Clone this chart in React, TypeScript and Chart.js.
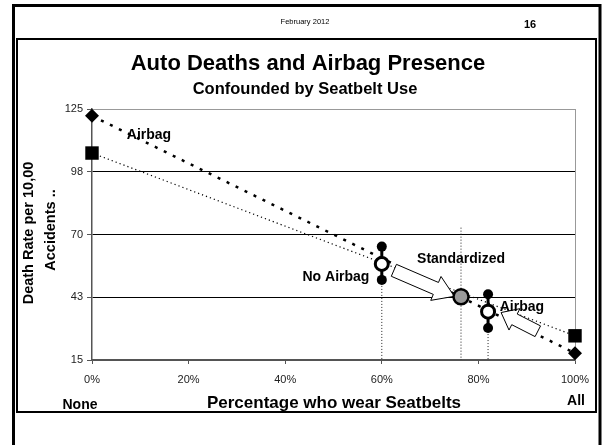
import React, { useEffect, useRef } from 'react';
import { Chart, registerables } from 'chart.js';
Chart.register(...registerables);

// ---- data ----
const xTickValues = [0, 20, 40, 60, 80, 100];
const yTickValues = [15, 42.5, 70, 97.5, 125];

const trendX = [0, 100];
const airbagTrend = [122, 18];
const noAirbagTrend = [105.7, 25.6];

const groupPct = [60, 82];
const groupRate = [57.1, 36.2];
const groupHigh = [64.7, 43.8];
const groupLow = [50.1, 29.0];

const standardizedPct = 76.4;
const standardizedRate = 42.7;
const standardizedLineTop = 73;

const arrowFrom = [[62.5, 54.3], [92.3, 27.6]];
const arrowTo = [[75.0, 42.9], [84.7, 35.8]];

const labelTexts = ['Airbag', 'No Airbag', 'Standardized', 'Airbag'];
const labelAt = [[11.8, 113.6], [50.5, 51.4], [76.4, 59.3], [89.0, 38.3]];

const FONT = "'Liberation Sans', Arial, Helvetica, sans-serif";

function drawArrow(ctx: CanvasRenderingContext2D, x1: number, y1: number, x2: number, y2: number, bodyHalf: number, headHalf: number, headLen: number) {
  const dx = x2 - x1, dy = y2 - y1;
  const len = Math.hypot(dx, dy);
  const ux = dx / len, uy = dy / len;
  const nx = -uy, ny = ux;
  const bx = x2 - ux * headLen, by = y2 - uy * headLen;
  ctx.save();
  ctx.beginPath();
  ctx.moveTo(x1 + nx * bodyHalf, y1 + ny * bodyHalf);
  ctx.lineTo(bx + nx * bodyHalf, by + ny * bodyHalf);
  ctx.lineTo(bx + nx * headHalf, by + ny * headHalf);
  ctx.lineTo(x2, y2);
  ctx.lineTo(bx - nx * headHalf, by - ny * headHalf);
  ctx.lineTo(bx - nx * bodyHalf, by - ny * bodyHalf);
  ctx.lineTo(x1 - nx * bodyHalf, y1 - ny * bodyHalf);
  ctx.closePath();
  ctx.fillStyle = '#fff';
  ctx.fill();
  ctx.strokeStyle = '#000';
  ctx.lineWidth = 1;
  ctx.stroke();
  ctx.restore();
}

const framePlugin = {
  id: 'frame',
  beforeDraw(chart: any) {
    const ctx = chart.ctx as CanvasRenderingContext2D;
    ctx.save();
    ctx.fillStyle = '#fff';
    ctx.fillRect(0, 0, chart.width, chart.height);
    // outer frame
    ctx.strokeStyle = '#000';
    ctx.lineWidth = 3;
    ctx.beginPath();
    ctx.moveTo(13.5, 445);
    ctx.lineTo(13.5, 5.5);
    ctx.lineTo(600, 5.5);
    ctx.lineTo(600, 445);
    ctx.stroke();
    // inner frame
    ctx.lineWidth = 2;
    ctx.strokeRect(17, 39, 579, 373);
    // header texts
    ctx.fillStyle = '#000';
    ctx.textAlign = 'center';
    ctx.textBaseline = 'middle';
    ctx.font = `7.5px ${FONT}`;
    ctx.fillText('February 2012', 305, 22);
    ctx.font = `bold 11px ${FONT}`;
    ctx.fillText('16', 530, 25);
    ctx.font = `bold 22px ${FONT}`;
    ctx.fillText('Auto Deaths and Airbag Presence', 308, 64);
    ctx.font = `bold 16.5px ${FONT}`;
    ctx.fillText('Confounded by Seatbelt Use', 305, 89);
    // axis titles
    ctx.font = `bold 17px ${FONT}`;
    ctx.fillText('Percentage who wear Seatbelts', 334, 403);
    ctx.font = `bold 14px ${FONT}`;
    ctx.fillText('None', 80, 405);
    ctx.fillText('All', 576, 401);
    ctx.save();
    ctx.translate(29, 233);
    ctx.rotate(-Math.PI / 2);
    ctx.font = `bold 14.5px ${FONT}`;
    ctx.fillText('Death Rate per 10,00', 0, 0);
    ctx.restore();
    ctx.save();
    ctx.translate(51, 230);
    ctx.rotate(-Math.PI / 2);
    ctx.font = `bold 14.5px ${FONT}`;
    ctx.fillText('Accidents ..', 0, 0);
    ctx.restore();
    ctx.restore();
  },
  beforeDatasetsDraw(chart: any) {
    const ctx = chart.ctx as CanvasRenderingContext2D;
    const a = chart.chartArea;
    ctx.save();
    ctx.strokeStyle = '#999';
    ctx.lineWidth = 1;
    ctx.beginPath();
    ctx.moveTo(a.right + 0.5, a.top);
    ctx.lineTo(a.right + 0.5, a.bottom);
    ctx.stroke();
    ctx.restore();
  },
  afterDatasetDraw(chart: any, args: any) {
    if (args.index !== 1) return;
    const ctx = chart.ctx as CanvasRenderingContext2D;
    const xs = chart.scales.x, ys = chart.scales.y;
    const sizes = [[6.5, 13, 20], [6, 12, 15]];
    arrowFrom.forEach((f, i) => {
      const t = arrowTo[i];
      drawArrow(ctx, xs.getPixelForValue(f[0]), ys.getPixelForValue(f[1]), xs.getPixelForValue(t[0]), ys.getPixelForValue(t[1]), sizes[i][0], sizes[i][1], sizes[i][2]);
    });
  },
  afterDatasetsDraw(chart: any) {
    const ctx = chart.ctx as CanvasRenderingContext2D;
    const xs = chart.scales.x, ys = chart.scales.y;
    ctx.save();
    ctx.fillStyle = '#000';
    ctx.textAlign = 'center';
    ctx.textBaseline = 'middle';
    ctx.font = `bold 14px ${FONT}`;
    labelTexts.forEach((t, i) => {
      ctx.fillText(t, xs.getPixelForValue(labelAt[i][0]), ys.getPixelForValue(labelAt[i][1]));
    });
    ctx.restore();
  },
};

export default function App() {
  const ref = useRef<HTMLCanvasElement>(null);
  useEffect(() => {
    if (!ref.current) return;
    const dropLine = (x: number, top: number) => ({
      data: [{ x, y: top }, { x, y: yTickValues[0] }],
      showLine: true,
      borderColor: '#222',
      borderWidth: 1,
      borderDash: [1, 2],
      pointRadius: 0,
    });
    const datasets: any[] = [
      // index 0: drawn on top
      {
        data: [{ x: standardizedPct, y: standardizedRate }],
        pointRadius: 7.5,
        pointBackgroundColor: '#999',
        pointBorderColor: '#000',
        pointBorderWidth: 2.5,
      },
      {
        data: groupPct.map((x, i) => ({ x, y: groupRate[i] })),
        pointRadius: 6.5,
        pointBackgroundColor: '#fff',
        pointBorderColor: '#000',
        pointBorderWidth: 3,
      },
      ...groupPct.map((x, i) => ({
        data: [{ x, y: groupHigh[i] }, { x, y: groupLow[i] }],
        showLine: true,
        borderColor: '#000',
        borderWidth: 3,
        pointRadius: 5,
        pointBackgroundColor: '#000',
        pointBorderColor: '#000',
        pointBorderWidth: 0,
      })),
      {
        data: trendX.map((x, i) => ({ x, y: airbagTrend[i] })),
        showLine: true,
        borderColor: '#000',
        borderWidth: 2.5,
        borderDash: [3, 7],
        pointStyle: 'rectRot',
        pointRadius: 7,
        pointBackgroundColor: '#000',
        pointBorderColor: '#000',
        pointBorderWidth: 0,
      },
      {
        data: trendX.map((x, i) => ({ x, y: noAirbagTrend[i] })),
        showLine: true,
        borderColor: '#000',
        borderWidth: 1.2,
        borderDash: [1.2, 3],
        pointStyle: 'rect',
        pointRadius: 9.5,
        pointBackgroundColor: '#000',
        pointBorderColor: '#000',
        pointBorderWidth: 0,
      },
      dropLine(groupPct[0], groupLow[0]),
      dropLine(groupPct[1], groupLow[1]),
      dropLine(standardizedPct, standardizedLineTop),
    ];
    const chart = new Chart(ref.current, {
      type: 'scatter',
      data: { datasets },
      options: {
        responsive: false,
        animation: false,
        devicePixelRatio: 1,
        clip: false as any,
        layout: { padding: { left: 60, right: 27, top: 109, bottom: 55 } },
        plugins: { legend: { display: false }, tooltip: { enabled: false }, title: { display: false } },
        scales: {
          x: {
            type: 'linear',
            min: 0,
            max: 100,
            afterBuildTicks: (s: any) => { s.ticks = xTickValues.map((v) => ({ value: v })); },
            afterFit: (s: any) => { s.height = 30; },
            grid: { drawOnChartArea: false, tickLength: 4, color: '#555', tickColor: '#555' },
            border: { color: '#555', width: 1.5 },
            ticks: {
              padding: 9,
              color: '#222',
              font: { family: FONT, size: 11 },
              callback: (v: any) => `${v}%`,
              maxRotation: 0,
            },
          },
          y: {
            type: 'linear',
            min: 15,
            max: 125,
            afterBuildTicks: (s: any) => { s.ticks = yTickValues.map((v) => ({ value: v })); },
            afterFit: (s: any) => { s.width = 32; },
            grid: {
              tickLength: 5,
              lineWidth: 1,
              color: (c: any) => (c.tick && c.tick.value === 125 ? '#999' : c.tick && c.tick.value === 15 ? '#555' : '#000'),
              tickColor: '#555',
            },
            border: { color: '#555', width: 1.5 },
            ticks: {
              padding: 4,
              color: '#222',
              font: { family: FONT, size: 11 },
              callback: (v: any) => `${Math.round(Number(v))}`,
            },
          },
        },
      },
      plugins: [framePlugin],
    });
    return () => chart.destroy();
  }, []);
  return (
    <div style={{ position: 'absolute', left: 0, top: 0, width: 602, height: 445 }}>
      <canvas ref={ref} width={602} height={445} style={{ width: 602, height: 445, display: 'block' }} />
    </div>
  );
}
